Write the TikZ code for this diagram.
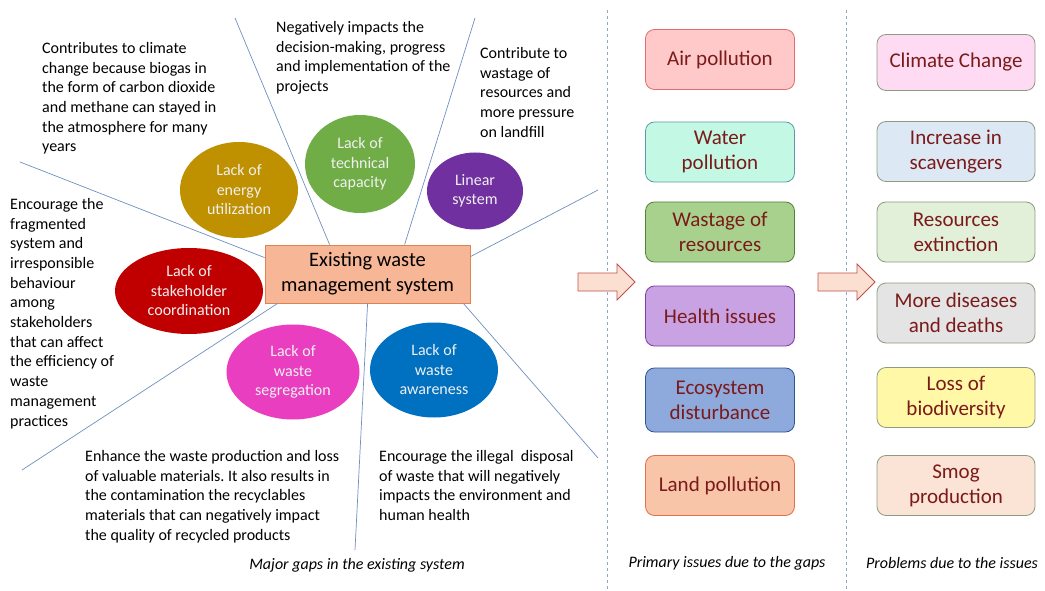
\documentclass[tikz,border=0pt]{standalone}
\usepackage{fontspec}
\setmainfont{Carlito}
\usepackage{xcolor}
\usetikzlibrary{arrows.meta,positioning,shapes.geometric,calc}
\frenchspacing
\definecolor{spoke}{HTML}{7090C0}
\definecolor{divline}{HTML}{8FA8BE}
\definecolor{sysfill}{HTML}{F7B696}
\definecolor{sysline}{HTML}{DD8452}
\definecolor{energy}{HTML}{BF9000}
\definecolor{technical}{HTML}{70AD47}
\definecolor{linear}{HTML}{7030A0}
\definecolor{stake}{HTML}{C00000}
\definecolor{segreg}{HTML}{E93EC0}
\definecolor{aware}{HTML}{0070C0}
\definecolor{issuetext}{HTML}{7B1A1A}
\definecolor{probline}{HTML}{8C9C80}
\definecolor{arrowfill}{HTML}{FBE0D2}
\definecolor{arrowline}{HTML}{C0504D}

\begin{document}
\begin{tikzpicture}[x=1pt,y=-1pt,
spoke/.style={draw=spoke,line width=0.7pt},
note/.style={anchor=north west,inner sep=0pt,align=left,font=\fontsize{16}{19.7}\selectfont},
gap/.style={ellipse,inner sep=0pt,align=center,text=white!94!black,font=\fontsize{16}{19.5}\selectfont},
issue/.style={draw,rounded corners=9pt,align=center,minimum width=149pt,minimum height=60pt,
 text=issuetext,font=\fontsize{21}{25}\selectfont,line width=0.8pt},
problem/.style={issue,draw=probline,minimum width=158pt},
caption/.style={font=\fontsize{16}{18}\selectfont\itshape},
blockarrow/.style={draw=arrowline,fill=arrowfill,line width=0.8pt},
divider/.style={draw=divline,dashed,line width=0.8pt}]
\useasboundingbox (0,0) rectangle (1045,591);
\fill[white] (0,0) rectangle (1045,591);
\node[draw=sysline,fill=sysfill,line width=0.8pt,minimum width=205pt,minimum height=58pt,align=center,
 font=\fontsize{20.5}{25}\selectfont] (sys) at (367.5,274) {Existing waste\\management system};
\coordinate (e1) at (20,162);
\coordinate (e2) at (235,18);
\coordinate (e3) at (475,18);
\coordinate (e4) at (598,190);
\coordinate (e5) at (22,470);
\coordinate (e6) at (355,550);
\coordinate (e7) at (598,458);
\draw[spoke] ($(sys.north west)+(0,13)$)--(e1);
\draw[spoke] ($(sys.north west)+(65,0)$)--(e2);
\draw[spoke] ($(sys.north west)+(140,0)$)--(e3);
\draw[spoke] ($(sys.north east)+(0,12)$)--(e4);
\draw[spoke] ($(sys.south west)+(13,0)$)--(e5);
\draw[spoke] ($(sys.south west)+(103,0)$)--(e6);
\draw[spoke] ($(sys.south east)+(-7,0)$)--(e7);
\node[gap,fill=energy,minimum width=118pt,minimum height=96pt] (energy) at (239,190) {Lack of\\energy\\utilization};
\node[gap,fill=technical,minimum width=110pt,minimum height=98pt] (technical) at (360,164) {Lack of\\technical\\capacity};
\node[gap,fill=linear,minimum width=96pt,minimum height=77pt] (linear) at (475,191) {Linear\\system};
\node[gap,fill=stake,minimum width=148pt,minimum height=86pt] (stake) at (189,291) {Lack of\\stakeholder\\coordination};
\node[gap,fill=segreg,minimum width=133pt,minimum height=95pt] (segreg) at (293,372) {Lack of\\waste\\segregation};
\node[gap,fill=aware,minimum width=128pt,minimum height=95pt] (aware) at (434,370) {Lack of\\waste\\awareness};
\node[note] (climnote) at (42,42) {Contributes to climate\\change because biogas in\\the form of carbon dioxide\\and methane can stayed in\\the atmosphere for many\\years};
\node[note] (technote) at (276,21) {Negatively impacts the\\decision-making, progress\\and implementation of the\\projects};
\node[note] (linnote) at (480,47) {Contribute to\\wastage of\\resources and\\more pressure\\on landfill};
\node[note] (stakenote) at (10,198) {Encourage the\\fragmented\\system and\\irresponsible\\behaviour\\among\\stakeholders\\that can affect\\the efficiency of\\waste\\management\\practices};
\node[note] (segnote) at (85,450) {Enhance the waste production and loss\\of valuable materials. It also results in\\the contamination the recyclables\\materials that can negatively impact\\the quality of recycled products};
\node[note] (awarenote) at (379,450) {Encourage the illegal\ \ disposal\\of waste that will negatively\\impacts the environment and\\human health};
\node[caption] (gapcap) at (357,565) {Major gaps in the existing system};
\draw[divider] (607,10)--(607,591);
\draw[divider] (846,10)--(846,591);
\draw[blockarrow] (578,273)--(617,273)--(617,264)--(635,282)--(617,300)--(617,291)--(578,291)--cycle;
\draw[blockarrow] (818,273)--(857,273)--(857,264)--(875,282)--(857,300)--(857,291)--(818,291)--cycle;
\node[issue,fill={rgb,255:red,255;green,201;blue,201},draw={rgb,255:red,224;green,108;blue,108}] (air) at (720,59.5) {Air pollution};
\node[issue,fill={rgb,255:red,195;green,249;blue,228},draw={rgb,255:red,94;green,154;blue,166}] (water) at (720,152) {Water\\pollution};
\node[issue,fill={rgb,255:red,169;green,209;blue,142},draw={rgb,255:red,84;green,130;blue,53}] (wastage) at (720,232) {Wastage of\\resources};
\node[issue,fill={rgb,255:red,201;green,162;blue,228},draw={rgb,255:red,127;green,63;blue,160}] (health) at (720,316) {Health issues};
\node[issue,fill={rgb,255:red,142;green,169;blue,219},draw={rgb,255:red,47;green,85;blue,151},minimum height=64pt] (eco) at (720,400) {Ecosystem\\disturbance};
\node[issue,fill={rgb,255:red,248;green,197;blue,168},draw={rgb,255:red,224;green,113;blue,74}] (land) at (720,485.5) {Land pollution};
\node[caption] (primcap) at (727,563) {Primary issues due to the gaps};
\node[problem,fill={rgb,255:red,255;green,219;blue,243},minimum height=56pt] (climate) at (956,62.5) {Climate Change};
\node[problem,fill={rgb,255:red,220;green,232;blue,244}] (scav) at (956,151.5) {Increase in\\scavengers};
\node[problem,fill={rgb,255:red,226;green,240;blue,217}] (extinct) at (956,232) {Resources\\extinction};
\node[problem,fill={rgb,255:red,228;green,228;blue,228}] (disease) at (956,313) {More diseases\\and deaths};
\node[problem,fill={rgb,255:red,255;green,249;blue,167}] (biodiv) at (956,397.5) {Loss of\\biodiversity};
\node[problem,fill={rgb,255:red,251;green,228;blue,213}] (smog) at (956,485.5) {Smog\\production};
\node[caption] (probcap) at (952,563) {Problems due to the issues};
\end{tikzpicture}
\end{document}
